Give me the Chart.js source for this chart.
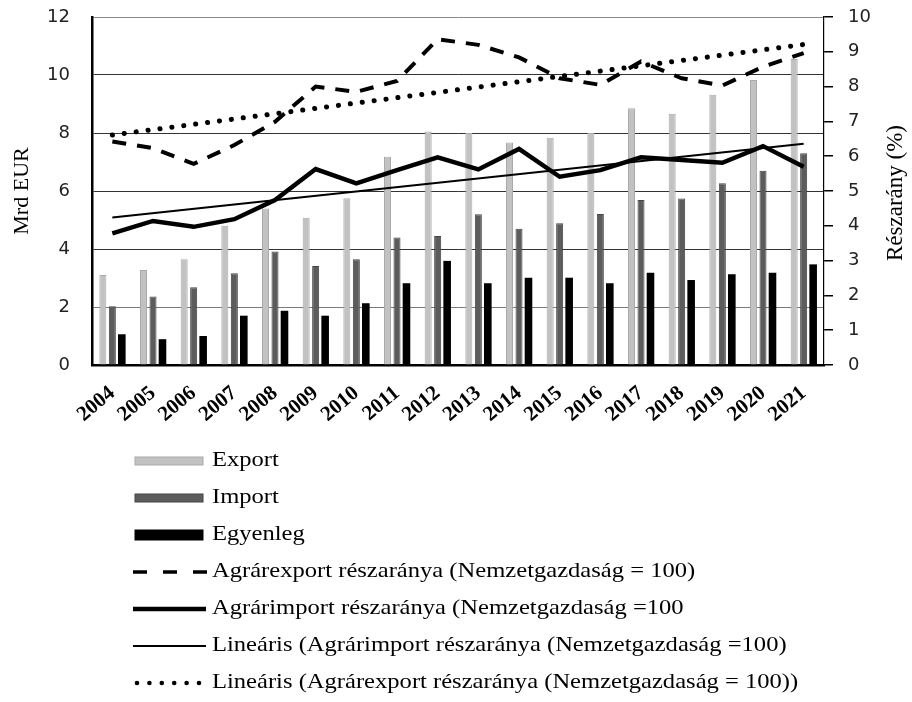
<!DOCTYPE html>
<html>
<head>
<meta charset="utf-8">
<script src="https://cdn.jsdelivr.net/npm/chart.js@4.4.0/dist/chart.umd.min.js"></script>
<style>
html,body{margin:0;padding:0;background:#fff;}
#wrap{position:relative;width:912px;height:702px;overflow:hidden;}
#c{position:absolute;left:0;top:0;}
.row{position:absolute;left:0;height:24px;width:912px;}
.row svg{position:absolute;left:133px;top:2px;}
.row span{position:absolute;left:212px;top:0;line-height:24px;font-family:"Liberation Serif","Times New Roman",serif;font-size:21px;color:#000;white-space:nowrap;transform:scaleX(1.17);transform-origin:left center;}
</style>
</head>
<body>
<div id="wrap">
<canvas id="c" width="912" height="702"></canvas>
<div id="legend"></div>
</div>
<script>
// ---- data ----
const years = ['2004','2005','2006','2007','2008','2009','2010','2011','2012','2013','2014','2015','2016','2017','2018','2019','2020','2021'];
const exportVals  = [3.10,3.28,3.65,4.80,5.40,5.08,5.75,7.18,8.05,8.00,7.67,7.84,8.00,8.85,8.66,9.32,9.83,10.55];
const importVals  = [2.03,2.36,2.68,3.16,3.91,3.41,3.65,4.40,4.45,5.20,4.70,4.89,5.21,5.69,5.74,6.27,6.70,7.30];
const balanceVals = [1.06,0.89,1.00,1.70,1.87,1.70,2.13,2.82,3.59,2.82,3.01,3.01,2.82,3.18,2.93,3.13,3.18,3.47];
const agrExportShare = [6.42,6.23,5.78,6.32,6.99,8.00,7.85,8.16,9.36,9.20,8.84,8.24,8.05,8.72,8.24,8.03,8.57,8.96];
const agrImportShare = [3.78,4.14,3.97,4.19,4.74,5.63,5.22,5.60,5.97,5.62,6.21,5.41,5.60,5.97,5.89,5.81,6.29,5.70];
// trend lines: only the two end points
const importTrend = [4.24,null,null,null,null,null,null,null,null,null,null,null,null,null,null,null,null,6.36];
const exportTrend = [6.61,null,null,null,null,null,null,null,null,null,null,null,null,null,null,null,null,9.21];
const leftTicks = [0,2,4,6,8,10,12];
const rightTicks = [0,1,2,3,4,5,6,7,8,9,10];
const labels = {
  exp: 'Export',
  imp: 'Import',
  bal: 'Egyenleg',
  expShare: 'Agrárexport részaránya (Nemzetgazdaság = 100)',
  impShare: 'Agrárimport részaránya (Nemzetgazdaság =100',
  impTrend: 'Lineáris (Agrárimport részaránya (Nemzetgazdaság =100)',
  expTrend: 'Lineáris (Agrárexport részaránya (Nemzetgazdaság = 100))'
};
const leftTitle = 'Mrd EUR';
const rightTitle = 'Részarány (%)';

const SERIF = '"Liberation Serif", "Times New Roman", serif';
const SANS = '"DejaVu Sans", Verdana, sans-serif';

const rightTitlePlugin = {
  id: 'rightTitle',
  afterDraw(chart) {
    const ctx = chart.ctx;
    const ca = chart.chartArea;
    ctx.save();
    ctx.translate(896, (ca.top + ca.bottom) / 2 + 2);
    ctx.rotate(-Math.PI / 2);
    ctx.font = '23px ' + SERIF;
    ctx.fillStyle = '#000';
    ctx.textAlign = 'center';
    ctx.textBaseline = 'middle';
    ctx.fillText(rightTitle, 0, 0);
    ctx.restore();
  }
};

const chart = new Chart(document.getElementById('c'), {
  type: 'bar',
  data: {
    labels: years,
    datasets: [
      {type:'line', label: labels.expShare, data: agrExportShare, yAxisID:'y1', borderColor:'#000', borderWidth:4, borderDash:[14,11], pointRadius:0, tension:0, fill:false, order:1, sym:'dash'},
      {type:'line', label: labels.impShare, data: agrImportShare, yAxisID:'y1', borderColor:'#000', borderWidth:4.5, pointRadius:0, tension:0, fill:false, order:1, sym:'thick'},
      {type:'line', label: labels.impTrend, data: importTrend, yAxisID:'y1', borderColor:'#000', borderWidth:2, pointRadius:0, tension:0, spanGaps:true, fill:false, order:1, sym:'thin'},
      {type:'line', label: labels.expTrend, data: exportTrend, yAxisID:'y1', borderColor:'#000', borderWidth:5, borderDash:[0.1,11.9], borderCapStyle:'round', pointRadius:0, tension:0, spanGaps:true, fill:false, order:1, sym:'dot'},
      {label: labels.exp, data: exportVals, yAxisID:'y', backgroundColor:'#c2c2c2', borderColor:'#aaaaaa', borderWidth:1, order:2, barPercentage:0.74, categoryPercentage:0.7, sym:'bar'},
      {label: labels.imp, data: importVals, yAxisID:'y', backgroundColor:'#5c5c5c', borderColor:'#454545', borderWidth:1, order:2, barPercentage:0.74, categoryPercentage:0.7, sym:'bar'},
      {label: labels.bal, data: balanceVals, yAxisID:'y', backgroundColor:'#000', borderWidth:0, order:2, barPercentage:0.8, categoryPercentage:0.7, sym:'bar'}
    ]
  },
  options: {
    responsive:false,
    animation:false,
    devicePixelRatio:1,
    layout:{padding:{top:17, left:0, right:0, bottom:0}},
    plugins:{legend:{display:false}, tooltip:{enabled:false}},
    scales:{
      x:{
        offset:true,
        grid:{display:false, drawTicks:false},
        border:{display:true, color:'#000', width:2.5},
        ticks:{font:{family:SERIF, size:21, weight:'bold'}, color:'#000', minRotation:40, maxRotation:40, autoSkip:false, padding:16},
        afterFit(s){ s.height = 702 - 17 - 348; s.paddingLeft = 0; s.paddingRight = 0; }
      },
      y:{
        position:'left', min:0, max:12,
        afterBuildTicks(s){ s.ticks = leftTicks.map(v => ({value:v})); },
        ticks:{font:{family:SANS, size:18}, color:'#222', padding:22},
        grid:{drawTicks:false, lineWidth:1, color:(c)=> c.tick && c.tick.value===12 ? '#8a8a8a' : (c.tick && c.tick.value===2 ? '#7a7a7a' : '#333333')},
        border:{color:'#000', width:2.5},
        title:{display:true, text:leftTitle, font:{family:SERIF, size:22}, color:'#000', padding:{top:9, bottom:0}},
        afterFit(s){ s.width = 92; s.paddingTop = 0; s.paddingBottom = 0; }
      },
      y1:{
        position:'right', min:0, max:10,
        afterBuildTicks(s){ s.ticks = rightTicks.map(v => ({value:v})); },
        ticks:{font:{family:SANS, size:18}, color:'#222', padding:15},
        grid:{drawOnChartArea:false, drawTicks:true, tickLength:9, color:'#000', lineWidth:1.5},
        border:{color:'#000', width:1.2},
        afterFit(s){ s.width = 88; s.paddingTop = 0; s.paddingBottom = 0; }
      }
    }
  },
  plugins:[rightTitlePlugin]
});

// ---- HTML legend built from the chart's datasets ----
const legendOrder = [4,5,6,0,1,2,3];
const rowCenters = [461,498,535,572,609,646,683];
const leg = document.getElementById('legend');
legendOrder.forEach((di, i) => {
  const ds = chart.data.datasets[di];
  const row = document.createElement('div');
  row.className = 'row';
  row.style.top = (rowCenters[i] - 14) + 'px';
  let svg = '';
  const W = 76, H = 24, cy = 12;
  if (ds.sym === 'bar') {
    const h = di === 6 ? 10 : 8;
    svg = `<rect x="2" y="${cy-h/2}" width="68" height="${h}" fill="${ds.backgroundColor}" stroke="${ds.borderColor||ds.backgroundColor}" stroke-width="1"/>`;
  } else if (ds.sym === 'dash') {
    svg = `<line x1="0" y1="${cy}" x2="74" y2="${cy}" stroke="#000" stroke-width="3.5" stroke-dasharray="14 16"/>`;
  } else if (ds.sym === 'thick') {
    svg = `<line x1="0" y1="${cy}" x2="73" y2="${cy}" stroke="#000" stroke-width="4.5"/>`;
  } else if (ds.sym === 'thin') {
    svg = `<line x1="0" y1="${cy}" x2="73" y2="${cy}" stroke="#000" stroke-width="2"/>`;
  } else if (ds.sym === 'dot') {
    for (let k = 0; k < 6; k++) svg += `<circle cx="${4 + k*12.4}" cy="${cy}" r="2.3" fill="#000"/>`;
  }
  row.innerHTML = `<svg width="${W}" height="${H}">${svg}</svg><span></span>`;
  row.querySelector('span').textContent = ds.label;
  leg.appendChild(row);
});
</script>
</body>
</html>
